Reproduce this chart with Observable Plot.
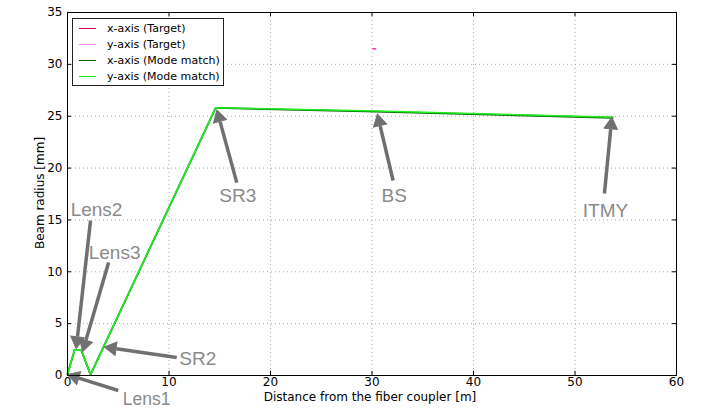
<!DOCTYPE html>
<html><head><meta charset="utf-8">
<script src="https://cdn.jsdelivr.net/npm/d3@7"></script>
<script src="https://cdn.jsdelivr.net/npm/@observablehq/plot@0.6"></script>
<style>
body{margin:0;background:#fff;}
#wrap{position:relative;width:720px;height:408px;font-family:"DejaVu Sans",sans-serif;}
#legend{position:absolute;left:72px;top:18px;width:152px;height:68px;border:1px solid #222;background:#fff;box-sizing:border-box;font-size:11px;white-space:nowrap;}
#legend .row{position:absolute;left:0;height:16px;display:flex;align-items:center;}
#legend .sw{width:17px;height:0;border-top:1.5px solid;margin-left:6px;margin-right:11px;}
</style></head>
<body><div id="wrap"></div>
<script>
// Data
const modeX = [0, 0.7, 1.35, 2.27, 14.6, 30.4, 53.7];
const modeXR = [0.12, 2.45, 2.45, 0.08, 25.8, 25.45, 24.85];
const modeYR = [0.12, 2.45, 2.45, 0.08, 25.82, 25.5, 24.9];
const targetX = [30.12, 30.35];
const targetXR = [31.5, 31.5];
const targetYR = [31.45, 31.45];
const xTicks = [0, 10, 20, 30, 40, 50, 60];
const yTicks = [0, 5, 10, 15, 20, 25, 30, 35];
const labels = ["Lens1", "Lens2", "Lens3", "SR2", "SR3", "BS", "ITMY"];
const labelX = [7.8, 2.86, 4.64, 12.83, 16.78, 32.18, 53.0];
const labelY = [-2.3, 16.0, 11.86, 1.64, 17.36, 17.36, 15.9];
const labelSize = [17.5, 19, 19, 19, 19, 19, 19];
const arrowX1 = [5.0, 2.27, 4.05, 10.76, 16.68, 32.08, 52.9];
const arrowY1 = [-1.45, 14.95, 10.9, 1.74, 18.6, 18.8, 17.55];
const arrowX2 = [0.3, 0.89, 1.58, 3.95, 14.8, 30.6, 53.6];
const arrowY2 = [0.0, 2.9, 2.6, 2.7, 25.3, 24.9, 24.6];
const seriesNames = ["x-axis (Target)", "y-axis (Target)", "x-axis (Mode match)", "y-axis (Mode match)"];
const seriesColors = ["#e6005c", "#ee82ee", "#006400", "#22ee22"];

const kx = (720 - 67 - 44) / 60, ky = (408 - 12 - 33) / 35; // px per data unit
const toPts = (xs, ys) => xs.map((x, i) => ({x, y: ys[i]}));
const ann = labels.map((t, i) => {
  const dxp = (arrowX2[i] - arrowX1[i]) * kx, dyp = -(arrowY2[i] - arrowY1[i]) * ky;
  const L = Math.hypot(dxp, dyp), ux = dxp / L, uy = dyp / L;
  const head = 11; // px
  return {t, x: labelX[i], y: labelY[i], s: labelSize[i],
    x1: arrowX1[i], y1: arrowY1[i],
    bx: arrowX2[i] - ux * head * 0.8 / kx, by: arrowY2[i] + uy * head * 0.8 / ky,
    hx: arrowX2[i] - ux * head * 0.42 / kx, hy: arrowY2[i] + uy * head * 0.42 / ky,
    rot: Math.atan2(ux, -uy) * 180 / Math.PI};
});

const chart = Plot.plot({
  width: 720, height: 408,
  marginLeft: 67, marginRight: 44, marginTop: 12, marginBottom: 33,
  style: {fontFamily: "DejaVu Sans, sans-serif", fontSize: "12px", color: "#000", background: "transparent", overflow: "visible"},
  x: {domain: [0, 60]},
  y: {domain: [0, 35]},
  marks: [
    Plot.gridX(xTicks, {stroke: "#aaa", strokeOpacity: 1, strokeDasharray: "1,3"}),
    Plot.gridY(yTicks, {stroke: "#aaa", strokeOpacity: 1, strokeDasharray: "1,3"}),
    Plot.axisX(xTicks, {tickSize: 0, tickPadding: 2, fontSize: 12, label: null}),
    Plot.axisY(yTicks, {tickSize: 0, tickPadding: 5, fontSize: 12, label: null}),
    Plot.ruleX(xTicks, {x: d => d, y1: 0, y2: 0.4, stroke: "#000"}),
    Plot.ruleX(xTicks, {x: d => d, y1: 34.6, y2: 35, stroke: "#000"}),
    Plot.ruleY(yTicks, {y: d => d, x1: 0, x2: 0.4, stroke: "#000"}),
    Plot.ruleY(yTicks, {y: d => d, x1: 59.6, x2: 60, stroke: "#000"}),
    Plot.line(toPts(targetX, targetXR), {x: "x", y: "y", stroke: seriesColors[0], strokeWidth: 1.5}),
    Plot.line(toPts(targetX, targetYR), {x: "x", y: "y", stroke: seriesColors[1], strokeWidth: 1.5}),
    Plot.line(toPts(modeX, modeXR), {x: "x", y: "y", stroke: seriesColors[2], strokeWidth: 1.8}),
    Plot.line(toPts(modeX, modeYR), {x: "x", y: "y", stroke: seriesColors[3], strokeWidth: 1.6}),
    Plot.link(ann, {x1: "x1", y1: "y1", x2: "bx", y2: "by", stroke: "#707070", strokeWidth: 3.5}),
    Plot.dot(ann, {x: "hx", y: "hy", symbol: "triangle", rotate: "rot", r: 5, fill: "#707070", stroke: "#707070", strokeWidth: 1}),
    Plot.text(ann, {x: "x", y: "y", text: "t", fontSize: "s", fill: "#8a8a8a", fontFamily: "Liberation Sans, sans-serif"}),
    Plot.frame({stroke: "#000"})
  ]
});
const wrap = document.getElementById("wrap");
wrap.appendChild(chart);
const svg = d3.select(chart);
svg.append("text").attr("x", 370).attr("y", 401).attr("text-anchor", "middle")
  .attr("font-size", 12).attr("font-family", "DejaVu Sans, sans-serif").text("Distance from the fiber coupler [m]");
svg.append("text").attr("transform", "translate(44,193) rotate(-90)").attr("text-anchor", "middle")
  .attr("font-size", 12).attr("font-family", "DejaVu Sans, sans-serif").text("Beam radius [mm]");

const lg = document.createElement("div");
lg.id = "legend";
seriesNames.forEach((n, i) => {
  const r = document.createElement("div");
  r.className = "row";
  r.style.top = (1 + i * 16.3) + "px";
  r.innerHTML = `<span class="sw" style="border-color:${seriesColors[i]}"></span><span>${n}</span>`;
  lg.appendChild(r);
});
wrap.appendChild(lg);
</script></body></html>
